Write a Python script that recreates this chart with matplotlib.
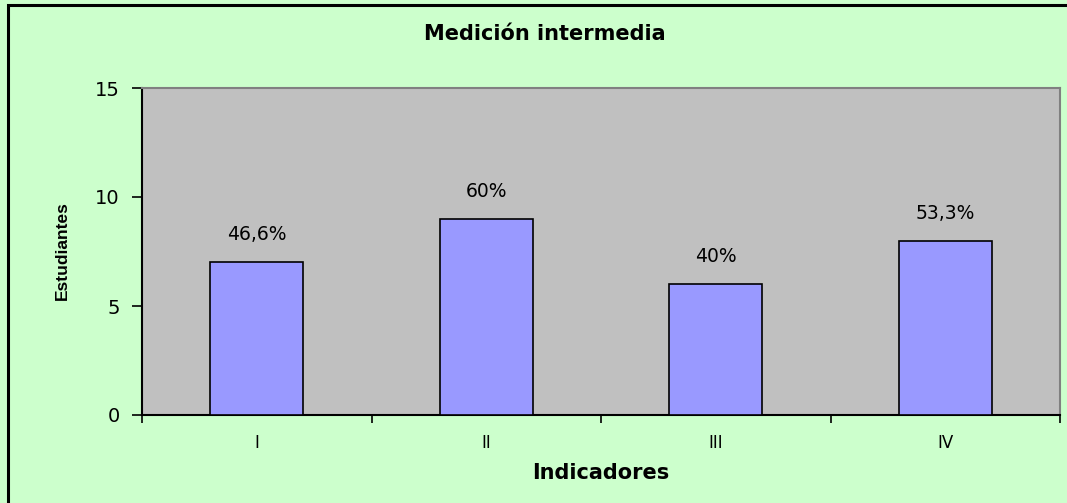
import matplotlib
matplotlib.use("Agg")
import matplotlib.pyplot as plt
from matplotlib.patches import Rectangle

# datos del gráfico
categorias = ["I", "II", "III", "IV"]
estudiantes = [7, 9, 6, 8]
porcentajes = ["46,6%", "60%", "40%", "53,3%"]
yticks = [0, 5, 10, 15]

plt.rcParams['font.family'] = ['DejaVu Sans']

W, H = 1067, 503
fig = plt.figure(figsize=(W / 100, H / 100), dpi=100)
fig.patch.set_facecolor('#CCFFCC')

# borde del área del gráfico
fig.add_artist(Rectangle((8 / W, -0.1), 1.2, 1 - 5 / H + 0.1, transform=fig.transFigure,
                         fill=False, edgecolor='black', linewidth=2.2))

ax = fig.add_axes([142 / W, 1 - 415 / H, (1060 - 142) / W, (415 - 88) / H])
ax.set_facecolor('#C0C0C0')

x = list(range(len(categorias)))
ax.bar(x, estudiantes, width=0.405, color='#9999FF', edgecolor='black', linewidth=1.2, zorder=3)

for xi, v, txt in zip(x, estudiantes, porcentajes):
    ax.annotate(txt, (xi, v), xytext=(0, 13), textcoords='offset points',
                ha='center', va='bottom', fontsize=13.5)

ax.set_xlim(-0.5, len(categorias) - 0.5)
ax.set_ylim(0, 15)
ax.set_yticks(yticks)
ax.set_yticklabels([str(t) for t in yticks], fontsize=14)
ax.set_xticks(x)
ax.set_xticklabels(categorias, fontsize=12)
ax.set_xticks([i - 0.5 for i in range(len(categorias) + 1)], minor=True)
ax.tick_params(axis='x', which='major', length=0, pad=14)
ax.tick_params(axis='x', which='minor', length=6, width=1.2, direction='out')
ax.tick_params(axis='y', length=7, width=1.2, direction='out', pad=9)

for s in ['left', 'bottom']:
    ax.spines[s].set_color('black')
    ax.spines[s].set_linewidth(1.5)
for s in ['top', 'right']:
    ax.spines[s].set_color('#808080')
    ax.spines[s].set_linewidth(1.5)

fig.text(545 / W, 1 - 34 / H, 'Medición intermedia', ha='center', va='center',
         fontsize=15, fontweight='bold')
fig.text(601 / W, 1 - 473 / H, 'Indicadores', ha='center', va='center',
         fontsize=15, fontweight='bold')
fig.text(62 / W, 1 - 251 / H, 'Estudiantes', ha='center', va='center', rotation=90,
         fontsize=12.5, fontweight='bold', family=['Liberation Sans Narrow', 'Liberation Sans'])

fig.savefig('out.png', dpi=100, facecolor=fig.get_facecolor())
